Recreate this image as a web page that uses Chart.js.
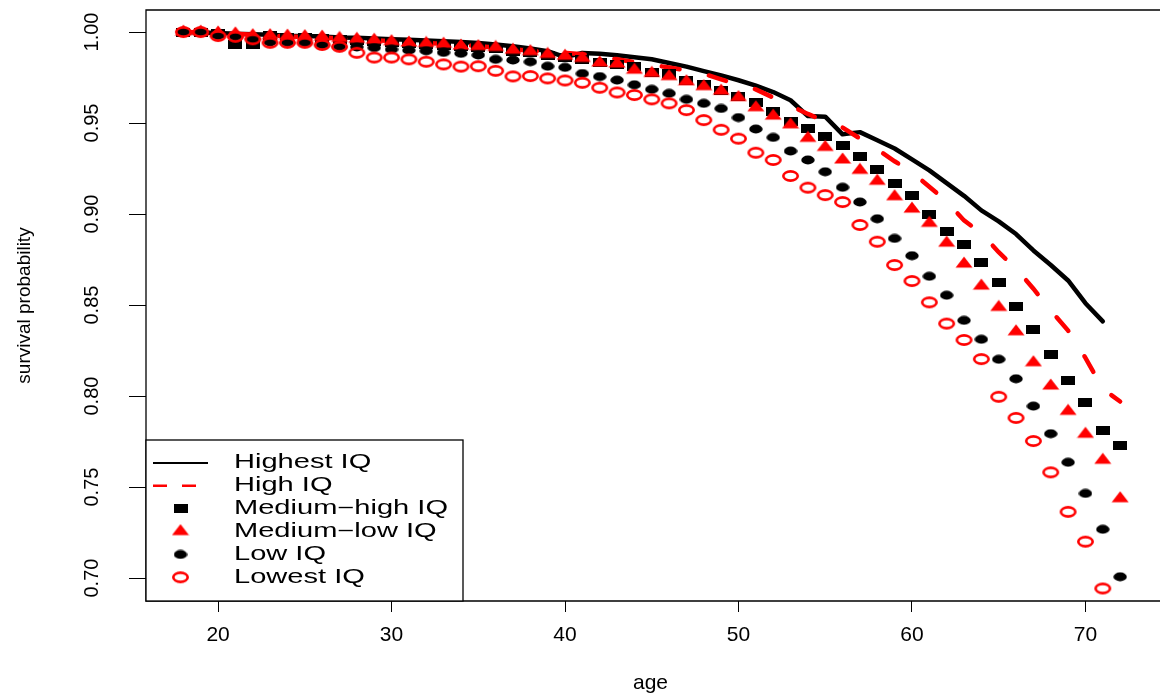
<!DOCTYPE html>
<html>
<head>
  <title>Survival probability by IQ group</title>
  <script src="https://cdn.jsdelivr.net/npm/chart.js"></script>
  <style>
    body { margin: 0; background: #fff; }
    canvas { display: block; }
  </style>
</head>
<body>
  <canvas id="survChart" width="1161" height="696"></canvas>

  <script>
    // ages 18..72, one value per age (null = not drawn)
    const ages = [18, 19, 20, 21, 22, 23, 24, 25, 26, 27, 28, 29, 30, 31, 32, 33, 34, 35, 36, 37,
      38, 39, 40, 41, 42, 43, 44, 45, 46, 47, 48, 49, 50, 51, 52, 53, 54, 55, 56, 57,
      58, 59, 60, 61, 62, 63, 64, 65, 66, 67, 68, 69, 70, 71, 72];

    const highest = [1.000, 0.9998, 0.9995, 0.999, 0.9988, 0.9985, 0.998, 0.9978, 0.9975, 0.997,
      0.9968, 0.9965, 0.996, 0.9957, 0.9953, 0.995, 0.9945, 0.994, 0.9932, 0.9922,
      0.991, 0.9895, 0.9862, 0.9885, 0.988, 0.9872, 0.9862, 0.985, 0.983, 0.981,
      0.9785, 0.9762, 0.9735, 0.9705, 0.967, 0.9625, 0.9538, 0.9535, 0.9438, 0.945,
      0.9405, 0.936, 0.930, 0.924, 0.917, 0.910, 0.902, 0.896, 0.889, 0.880,
      0.872, 0.8635, 0.851, 0.841, null];

    const high = [1.000, 0.9997, 0.9993, 0.999, 0.9985, 0.998, 0.9977, 0.9972, 0.997, 0.9965,
      0.996, 0.9955, 0.995, 0.9945, 0.994, 0.9935, 0.993, 0.9922, 0.9915, 0.9905,
      0.9897, 0.989, 0.9885, 0.9878, 0.9865, 0.985, 0.9835, 0.982, 0.9805, 0.979,
      0.977, 0.974, 0.971, 0.9685, 0.964, 0.9595, 0.955, 0.951, 0.9475, 0.9415,
      0.9355, 0.929, 0.923, 0.915, 0.907, 0.8965, 0.8895, 0.879, 0.870, 0.859,
      0.847, 0.836, 0.821, 0.804, 0.797];

    const mediumHigh = [1.000, 1.000, 0.999, 0.9934, 0.9934, 0.998, 0.997, 0.9968, 0.9965, 0.996,
      0.9955, 0.995, 0.9944, 0.9937, 0.9932, 0.9928, 0.992, 0.9915, 0.991, 0.9895,
      0.9887, 0.9873, 0.9862, 0.985, 0.9835, 0.982, 0.981, 0.978, 0.977, 0.9736,
      0.971, 0.968, 0.9648, 0.9613, 0.9562, 0.951, 0.947, 0.9427, 0.9375, 0.9315,
      0.9247, 0.917, 0.910, 0.8995, 0.8905, 0.8833, 0.8736, 0.8626, 0.849, 0.8363,
      0.823, 0.8088, 0.7967, 0.7808, 0.773];

    const mediumLow = [1.000, 1.000, 0.9995, 0.999, 0.998, 0.998, 0.9978, 0.9975, 0.9972, 0.9965,
      0.996, 0.9955, 0.9947, 0.994, 0.9937, 0.9933, 0.9923, 0.992, 0.9915, 0.990,
      0.9892, 0.9877, 0.9867, 0.9855, 0.983, 0.9824, 0.979, 0.9773, 0.9755, 0.9727,
      0.970, 0.9675, 0.964, 0.9584, 0.9538, 0.949, 0.9416, 0.9366, 0.9297, 0.924,
      0.918, 0.9095, 0.9027, 0.8949, 0.884, 0.8725, 0.8604, 0.8487, 0.8353, 0.8183,
      0.8055, 0.7916, 0.779, 0.7647, 0.7436];

    const low = [1.000, 1.000, 0.998, 0.9975, 0.9962, 0.9945, 0.9942, 0.9941, 0.993, 0.992,
      0.9918, 0.9914, 0.9905, 0.990, 0.9897, 0.9888, 0.9883, 0.9874, 0.985, 0.9846,
      0.9837, 0.9812, 0.9806, 0.9772, 0.9755, 0.9736, 0.971, 0.9685, 0.9663, 0.963,
      0.9608, 0.958, 0.953, 0.9467, 0.9421, 0.9346, 0.9297, 0.9232, 0.9147, 0.9066,
      0.8974, 0.8866, 0.8771, 0.8658, 0.8554, 0.8416, 0.8312, 0.8202, 0.8095, 0.7945,
      0.7793, 0.7636, 0.7465, 0.7268, 0.7007];

    const lowest = [1.000, 1.000, 0.9978, 0.9974, 0.996, 0.9941, 0.9941, 0.9941, 0.9929, 0.9919,
      0.9886, 0.986, 0.986, 0.985, 0.9837, 0.9822, 0.981, 0.9812, 0.9787, 0.9756,
      0.9758, 0.9745, 0.9734, 0.9721, 0.9694, 0.9668, 0.9654, 0.963, 0.9608, 0.9571,
      0.9516, 0.9463, 0.9414, 0.9337, 0.9297, 0.9209, 0.9145, 0.9104, 0.9066, 0.894,
      0.8848, 0.872, 0.8632, 0.8515, 0.8398, 0.8308, 0.8203, 0.7996, 0.788, 0.7753,
      0.7581, 0.7364, 0.72, 0.6943, null];

    const seriesNames = ["Highest IQ", "High IQ", "Medium\u2212high IQ", "Medium\u2212low IQ", "Low IQ", "Lowest IQ"];
    const xTicks = [20, 30, 40, 50, 60, 70];
    const yTicks = [0.70, 0.75, 0.80, 0.85, 0.90, 0.95, 1.00];

    const fontFamily = '"Liberation Sans", Arial, Helvetica, sans-serif';
    Chart.defaults.font.family = fontFamily;
    Chart.defaults.color = "#000";

    function pts(vals) {
      return ages.map((a, i) => ({ x: a, y: vals[i] })).filter(p => p.y !== null);
    }

    // the reference markers are a bit wider than tall, so build them as small canvases
    function makeMarker(w, h, draw) {
      const c = document.createElement("canvas");
      c.width = w;
      c.height = h;
      draw(c.getContext("2d"));
      return c;
    }
    const squareMark = makeMarker(14, 9, g => { g.fillStyle = "#000"; g.fillRect(0, 0, 14, 9); });
    const triMark = makeMarker(18, 16, g => {
      g.fillStyle = "#ff0000";
      g.beginPath(); g.moveTo(9, 0.5); g.lineTo(17.5, 11.5); g.lineTo(0.5, 11.5); g.closePath(); g.fill();
    });
    const dotMark = makeMarker(14, 10, g => {
      g.fillStyle = "#000";
      g.beginPath(); g.ellipse(7, 5, 6.7, 4.4, 0, 0, Math.PI * 2); g.fill();
    });
    const ringMark = makeMarker(19, 14, g => {
      g.strokeStyle = "#ff0000"; g.lineWidth = 2.6;
      g.beginPath(); g.ellipse(9.5, 7, 7.2, 4.6, 0, 0, Math.PI * 2); g.stroke();
    });

    const frameAndKey = {
      id: "frameAndKey",
      afterDraw(chart) {
        const { ctx, chartArea: a } = chart;
        ctx.save();
        ctx.strokeStyle = "#000";
        ctx.lineWidth = 1.3;
        ctx.beginPath();
        ctx.moveTo(a.right + 5, a.top);
        ctx.lineTo(a.left, a.top);
        ctx.lineTo(a.left, a.bottom);
        ctx.lineTo(a.right + 5, a.bottom);
        ctx.stroke();

        // legend box, bottom-left corner of the plot
        const bx = a.left, bw = 317, bh = 161, by = a.bottom - bh;
        ctx.fillStyle = "#fff";
        ctx.fillRect(bx, by, bw, bh);
        ctx.strokeRect(bx, by, bw, bh);

        const symX = bx + 34.5;
        const rowY = i => by + 23 + i * 22.86;

        ctx.lineCap = "butt";
        ctx.lineWidth = 2;
        ctx.strokeStyle = "#000";
        ctx.beginPath(); ctx.moveTo(bx + 7, rowY(0)); ctx.lineTo(bx + 62, rowY(0)); ctx.stroke();

        ctx.strokeStyle = "#ff0000";
        ctx.lineWidth = 2.5;
        ctx.setLineDash([14, 15]);
        ctx.beginPath(); ctx.moveTo(bx + 7, rowY(1)); ctx.lineTo(bx + 62, rowY(1)); ctx.stroke();
        ctx.setLineDash([]);

        [squareMark, triMark, dotMark, ringMark].forEach((m, k) => {
          ctx.drawImage(m, symX - m.width / 2, rowY(k + 2) - m.height / 2);
        });

        ctx.fillStyle = "#000";
        ctx.font = "19.5px " + fontFamily;
        ctx.textBaseline = "middle";
        ctx.textAlign = "left";
        seriesNames.forEach((name, i) => {
          ctx.save();
          ctx.translate(bx + 88, rowY(i));
          ctx.scale(1.49, 1);
          ctx.fillText(name, 0, 0);
          ctx.restore();
        });
        ctx.restore();
      }
    };

    const ctx = document.getElementById("survChart").getContext("2d");

    const chart = new Chart(ctx, {
      type: "scatter",
      data: {
        datasets: [
          { label: seriesNames[0], data: pts(highest), showLine: true, borderColor: "#000", borderWidth: 4.5,
            borderJoinStyle: "round", borderCapStyle: "round", pointRadius: 0, order: 6 },
          { label: seriesNames[1], data: pts(high), showLine: true, borderColor: "#ff0000", borderWidth: 4.5,
            borderDash: [18, 30], borderCapStyle: "round", pointRadius: 0, order: 5 },
          { label: seriesNames[2], data: pts(mediumHigh), pointStyle: squareMark, pointRadius: 5, order: 4 },
          { label: seriesNames[3], data: pts(mediumLow), pointStyle: triMark, pointRadius: 5, order: 3 },
          { label: seriesNames[4], data: pts(low), pointStyle: dotMark, pointRadius: 5, order: 2 },
          { label: seriesNames[5], data: pts(lowest), pointStyle: ringMark, pointRadius: 5, order: 1 }
        ]
      },
      options: {
        responsive: false,
        animation: false,
        devicePixelRatio: 1,
        events: [],
        layout: { padding: { top: 10, right: 0, bottom: 0, left: 0 } },
        plugins: { legend: { display: false }, tooltip: { enabled: false } },
        scales: {
          x: {
            type: "linear",
            min: 15.845,
            max: 74.01,
            afterFit: s => { s.height = 95; s.paddingLeft = 0; s.paddingRight = 0; },
            afterBuildTicks: s => { s.ticks = xTicks.map(v => ({ value: v })); },
            border: { display: false },
            grid: { drawOnChartArea: false, tickLength: 11, color: "#000", lineWidth: 1 },
            ticks: { padding: 11, font: { size: 21 }, color: "#000", callback: v => String(v) },
            title: { display: true, text: "age", font: { size: 21 }, color: "#000", padding: { top: 0, bottom: 0 } }
          },
          y: {
            type: "linear",
            min: 0.6874,
            max: 1.0121,
            afterFit: s => { s.width = 146; s.paddingTop = 0; s.paddingBottom = 0; },
            afterBuildTicks: s => { s.ticks = yTicks.map(v => ({ value: v })); },
            border: { display: false },
            grid: { drawOnChartArea: false, tickLength: 17, color: "#000", lineWidth: 1 },
            ticks: { padding: 17, minRotation: 90, maxRotation: 90, crossAlign: "center",
              font: { size: 20 }, color: "#000", callback: v => v.toFixed(2) },
            title: { display: true, text: "survival probability", font: { size: 19 }, color: "#000",
              padding: { top: 13, bottom: 0 } }
          }
        }
      },
      plugins: [frameAndKey]
    });
  </script>
</body>
</html>
